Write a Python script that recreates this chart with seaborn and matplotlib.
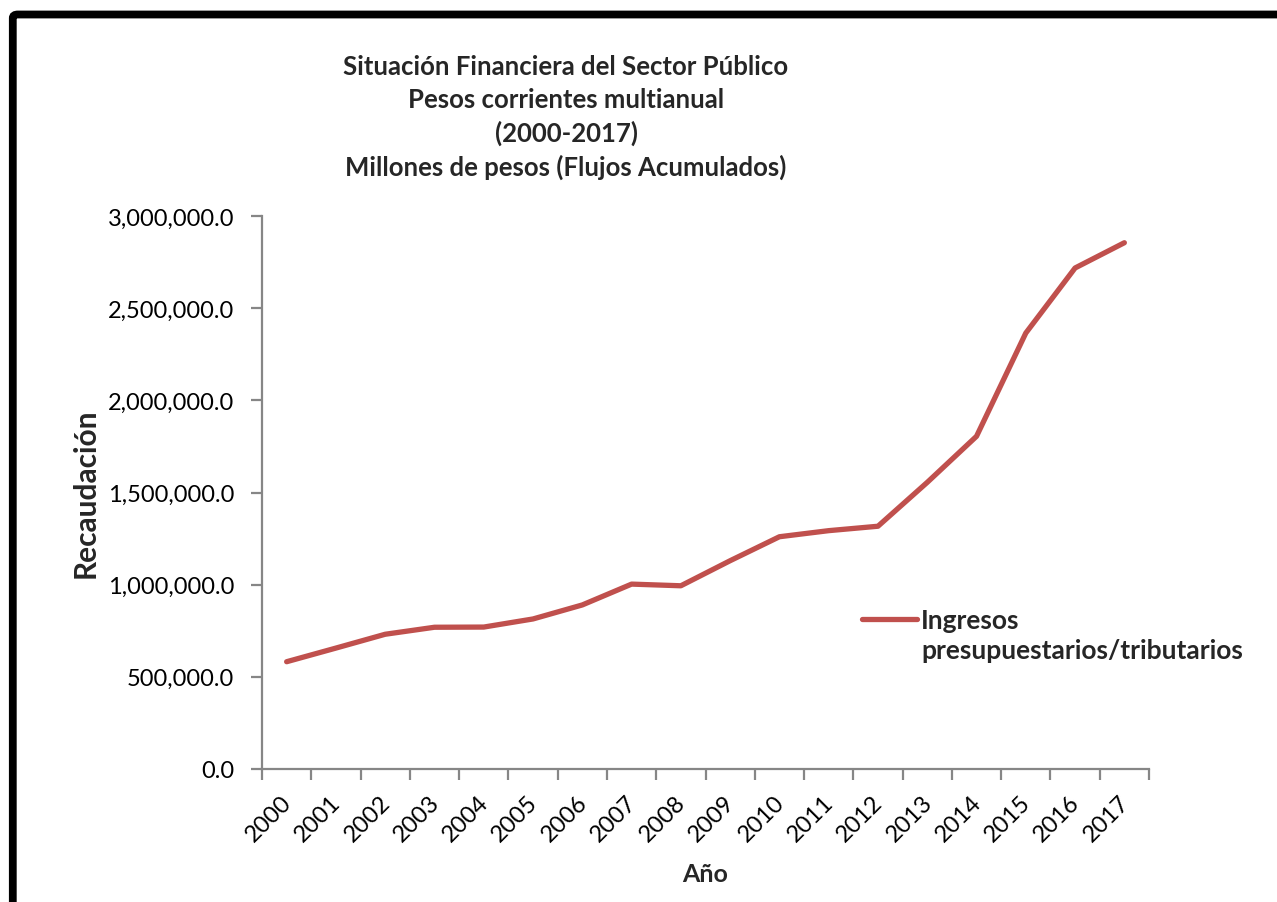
import matplotlib
matplotlib.use("Agg")
import matplotlib.pyplot as plt
import matplotlib.ticker as mticker
import matplotlib.transforms as mtransforms
from matplotlib.patches import FancyBboxPatch
from matplotlib.offsetbox import HPacker
import seaborn as sns
import pandas as pd
import numpy as np

years = ["2000", "2001", "2002", "2003", "2004", "2005", "2006", "2007", "2008",
         "2009", "2010", "2011", "2012", "2013", "2014", "2015", "2016", "2017"]
ingresos = [582000, 656000, 731000, 769000, 770000, 814000, 890000, 1003000, 994000,
            1130000, 1260000, 1293000, 1317000, 1555000, 1805000, 2365000, 2718000, 2855000]
series_name = "Ingresos\npresupuestarios/tributarios"
title_lines = ["Situación Financiera del Sector Público",
               "Pesos corrientes multianual",
               "(2000-2017)",
               "Millones de pesos (Flujos Acumulados)"]

sns.set_theme(style="white")
plt.rcParams["font.family"] = ["Lato", "DejaVu Sans"]

df = pd.DataFrame({"Año": years, "Recaudación": ingresos, "serie": series_name})

fig = plt.figure(figsize=(12.77, 9.03), dpi=100)
ax = fig.add_axes([262/1277, 1-770/903, (1149-262)/1277, (770-217)/903])

sns.lineplot(data=df, x="Año", y="Recaudación", hue="serie", palette=["#C0504D"],
             linewidth=3.8, ax=ax, sort=False)

ax.set_xlim(-0.5, len(years) - 0.5)
ax.set_ylim(0, 3000000)
ax.yaxis.set_major_locator(mticker.MultipleLocator(500000))
ax.yaxis.set_major_formatter(mticker.FuncFormatter(lambda v, p: f"{v:,.1f}"))

gray = "#868686"
for s in ["top", "right"]:
    ax.spines[s].set_visible(False)
for s in ["left", "bottom"]:
    ax.spines[s].set_color(gray)
    ax.spines[s].set_linewidth(1.6)

ax.set_xticks(range(len(years)))
ax.set_xticklabels(years)
ax.set_xticks(np.arange(-0.5, len(years), 1.0), minor=True)
ax.tick_params(axis="x", which="major", length=0, pad=16, labelsize=17, labelcolor="black")
ax.tick_params(axis="x", which="minor", length=8, width=1.6, color=gray, direction="out", bottom=True)
ax.tick_params(axis="y", which="major", length=8, width=1.6, color=gray, direction="out",
               left=True, labelsize=17, labelcolor="black", pad=12)
shift = mtransforms.ScaledTranslation(-6/100, 0, fig.dpi_scale_trans)
for lbl in ax.get_xticklabels():
    lbl.set_rotation(45)
    lbl.set_ha("right")
    lbl.set_rotation_mode("anchor")
    lbl.set_transform(lbl.get_transform() + shift)

ax.set_xlabel("Año", fontsize=18, fontweight="bold", labelpad=12)
ax.set_ylabel("Recaudación", fontsize=21.5, fontweight="bold", labelpad=6)

leg = ax.legend(loc="upper left", bbox_to_anchor=(851/1277, 1-598/903),
                bbox_transform=fig.transFigure, frameon=False, fontsize=19,
                handlelength=2.1, handletextpad=0.15, borderaxespad=0,
                handleheight=1.2)
for t in leg.get_texts():
    t.set_fontweight("bold")
    t.set_linespacing(1.3)
for hp in leg.findobj(match=lambda a: isinstance(a, HPacker)):
    hp.align = "top"

for i, line in enumerate(title_lines):
    fig.text(566/1277, 1-(67+33.3*i)/903, line, ha="center", va="center",
             fontsize=18.5, fontweight="bold")

frame = FancyBboxPatch((12.8/1277, -0.05), 1.2, 1-15.5/903+0.05,
                       boxstyle="round,pad=0,rounding_size=0.004",
                       transform=fig.transFigure, fill=False, edgecolor="black",
                       linewidth=5.6, clip_on=False)
fig.patches.append(frame)

fig.savefig("out.png", dpi=100)
